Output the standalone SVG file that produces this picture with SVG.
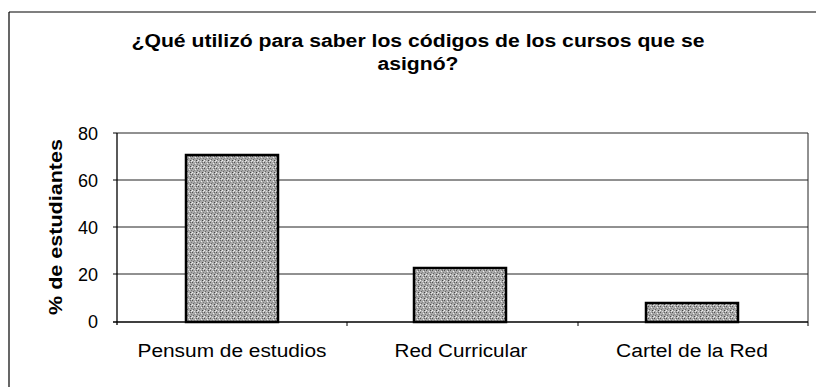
<svg xmlns="http://www.w3.org/2000/svg" width="816" height="387" viewBox="0 0 816 387">
<style>
.t{font-family:"Liberation Sans",Arial,sans-serif;fill:#000}
.title{font-size:18px;font-weight:bold;text-anchor:middle}
.tick{font-size:18px;text-anchor:end}
.cat{font-size:18px;text-anchor:middle}
.ylab{font-size:19px;font-weight:bold;text-anchor:middle}
.grid{stroke:#222;stroke-width:1;fill:none}
.bar{fill:url(#stip);stroke:#000;stroke-width:2.5}
</style>
<defs>
<pattern id="stip" width="6" height="6" patternUnits="userSpaceOnUse">
<rect width="6" height="6" fill="#aaa"/>
<rect x="0" y="0" width="1" height="1" fill="#555"/>
<rect x="3" y="1" width="1" height="1" fill="#eee"/>
<rect x="1" y="3" width="1" height="1" fill="#666"/>
<rect x="4" y="4" width="1" height="1" fill="#444"/>
<rect x="2" y="5" width="1" height="1" fill="#ddd"/>
<rect x="5" y="2" width="1" height="1" fill="#777"/>
<rect x="2" y="2" width="1" height="1" fill="#888"/>
<rect x="5" y="5" width="1" height="1" fill="#e6e6e6"/>
<rect x="0" y="4" width="1" height="1" fill="#f0f0f0"/>
<rect x="4" y="0" width="1" height="1" fill="#666"/>
</pattern>
</defs>
<rect width="816" height="387" fill="#fff"/>
<g id="frame">
<line x1="9" y1="12" x2="816" y2="12" stroke="#000" stroke-width="1.2"/>
<line x1="9" y1="12" x2="9" y2="387" stroke="#000" stroke-width="1.2"/>
</g>
<g id="title">
<text class="t title" x="418" y="47" textLength="573" lengthAdjust="spacingAndGlyphs">¿Qué utilizó para saber los códigos de los cursos que se</text>
<text class="t title" x="418" y="70" textLength="81" lengthAdjust="spacingAndGlyphs">asignó?</text>
</g>
<g id="plot">
<line class="grid" x1="117" y1="133" x2="808" y2="133"/>
<line class="grid" x1="117" y1="180" x2="808" y2="180"/>
<line class="grid" x1="117" y1="227" x2="808" y2="227"/>
<line class="grid" x1="117" y1="274" x2="808" y2="274"/>
<line class="grid" x1="808" y1="133" x2="808" y2="322"/>
</g>
<g id="bars">
<rect id="bar-pensum" class="bar" x="186" y="155" width="92" height="167"/>
<rect id="bar-red" class="bar" x="414" y="268" width="92" height="54"/>
<rect id="bar-cartel" class="bar" x="646" y="303" width="92" height="19"/>
</g>
<g id="axes">
<line x1="117" y1="133" x2="117" y2="325" stroke="#000" stroke-width="1.3"/>
<line x1="113" y1="322" x2="808" y2="322" stroke="#000" stroke-width="1.5"/>
<line x1="113" y1="133" x2="117" y2="133" stroke="#000"/>
<line x1="113" y1="180" x2="117" y2="180" stroke="#000"/>
<line x1="113" y1="227" x2="117" y2="227" stroke="#000"/>
<line x1="113" y1="274" x2="117" y2="274" stroke="#000"/>
<line x1="347" y1="322" x2="347" y2="326" stroke="#000"/>
<line x1="578" y1="322" x2="578" y2="326" stroke="#000"/>
<line x1="808" y1="322" x2="808" y2="326" stroke="#000"/>
</g>
<g id="ticks">
<text class="t tick" x="98" y="140">80</text>
<text class="t tick" x="98" y="187">60</text>
<text class="t tick" x="98" y="234">40</text>
<text class="t tick" x="98" y="281">20</text>
<text class="t tick" x="98" y="328">0</text>
</g>
<g id="ylabel">
<text class="t ylab" transform="translate(62,227) rotate(-90)" x="0" y="0" textLength="176" lengthAdjust="spacingAndGlyphs">% de estudiantes</text>
</g>
<g id="categories">
<text class="t cat" x="232" y="357" textLength="189" lengthAdjust="spacingAndGlyphs">Pensum de estudios</text>
<text class="t cat" x="461" y="357" textLength="133" lengthAdjust="spacingAndGlyphs">Red Curricular</text>
<text class="t cat" x="692" y="357" textLength="152" lengthAdjust="spacingAndGlyphs">Cartel de la Red</text>
</g>
</svg>
